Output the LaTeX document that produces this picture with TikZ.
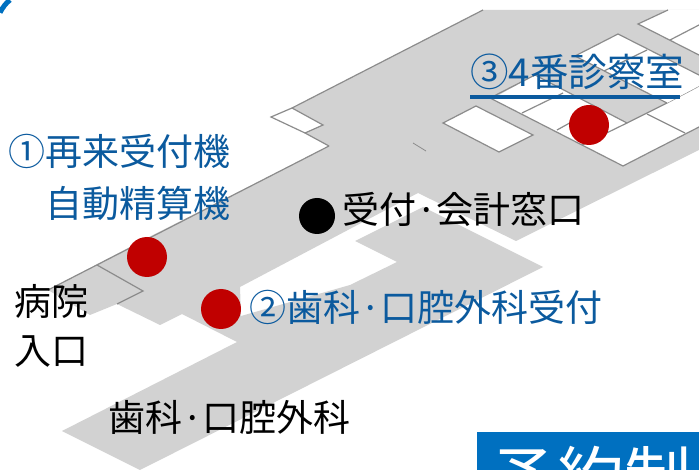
\documentclass[tikz,border=0pt]{standalone}
\usepackage{fontspec}
\usepackage{xcolor}
\setmainfont{Noto Sans CJK JP}
\usetikzlibrary{%
  positioning,%
  calc}
\definecolor{floorgray}{HTML}{D2D2D2}
\definecolor{wallgray}{HTML}{8C8C8C}
\definecolor{labelblue}{HTML}{0B5A9E}
\definecolor{boxblue}{HTML}{0070C0}
\definecolor{spotred}{HTML}{C00000}
\tikzset{
  wall/.style={draw=wallgray,line width=1.2pt,line join=miter},
  room/.style={wall,fill=white},
  spot/.style={circle,fill=spotred,minimum size=40pt,inner sep=0pt},
  blacklabel/.style={anchor=base west,inner sep=0pt,text=black,font=\fontsize{37}{37}\selectfont},
  bluelabel/.style={blacklabel,text=labelblue}
}
\begin{document}
\begin{tikzpicture}
\begin{scope}[x=1pt,y=-1pt]
\useasboundingbox (0,0) rectangle (699,470);
\clip (0,0) rectangle (699,470);
% floor
\fill[floorgray] (483,10) -- (699,10) -- (699,150) -- (516,241) -- (418,193) -- (240,287)
  -- (241,316) -- (350,285) -- (397,262) -- (355,241) -- (423,207) -- (543,267) -- (140,470) -- (62,431)
  -- (237,342) -- (182,314) -- (160,325) -- (117,304) -- (90,315) -- (48,290) -- (147,238)
  -- (329,146) -- (305,133) -- (323,125) -- (292,108) -- cycle;
\draw[wall] (483,10) -- (292,108);
\draw[wall] (329,146) -- (305,133);
\draw[wall] (329,146) -- (48,290);
\draw[wall] (97,265) -- (143,291) -- (117,304);
\draw[wall,line width=0.8pt] (413,143) -- (426,151);
% rooms
\draw[room] (292,108) -- (271,117) -- (305,133) -- (323,125) -- cycle;
\draw[room] (476,106) -- (533,135) -- (499,152) -- (443,123) -- cycle;
\fill[white] (492,99) -- (623,166) -- (699,127) -- (699,86) -- (667,103) -- (627,123) -- (535,75) -- cycle;
\draw[wall] (699,86) -- (667,103) -- (627,123) -- (535,75) -- (490,98) -- (623,166) -- (699,127);
\draw[wall] (522,113) -- (563,93);
\draw[wall] (557,130) -- (595,109);
\draw[wall] (582,145) -- (627,123);
\draw[wall] (647,114) -- (685,133);
\fill[white] (575,56) -- (618,34) -- (699,75) -- (699,86) -- (667,103) -- cycle;
\draw[wall] (667,103) -- (575,56) -- (618,34) -- (699,75);
\draw[wall] (647,50) -- (604,71);
\fill[white] (638,24) -- (668,10) -- (699,10) -- (699,55) -- cycle;
\draw[wall] (668,10) -- (638,24) -- (699,55);
\draw[wall] (670,40) -- (699,25);
% corner and box
\draw[boxblue,line width=5pt] (10,0) .. controls (6,3) and (3,7) .. (0,12.5);
\node (box) at (477,432) [anchor=north west,fill=boxblue,minimum width=222pt,minimum height=38pt,inner sep=0pt] {};
\node (yoyaku) at (490,502) [anchor=base west,inner sep=0pt,text=white,font=\fontsize{67}{67}\selectfont] {予約制};
% spots
\node (S1) at (147,257) [spot] {};
\node (S2) at (221,309) [spot] {};
\node (S3) at (589,125) [spot] {};
\node (R) at (317,216) [circle,fill=black,minimum size=36pt,inner sep=0pt] {};
% labels
\node (L1) at (8,166) [bluelabel] {①再来受付機};
\node (L1b) at (45,218) [bluelabel] {自動精算機};
\node (L2) at (249,322) [bluelabel] {②歯科·口腔外科受付};
\node (L3) at (470,87) [bluelabel,font=\fontsize{38.5}{38.5}\selectfont] {③4番診察室};
\draw[labelblue,line width=4pt] (470,97) -- (680,97);
\node (LR) at (342,224) [blacklabel] {受付·会計窓口};
\node (LE) at (14,316) [blacklabel] {病院};
\node (LEb) at (14,365) [blacklabel] {入口};
\node (LD) at (108,431) [blacklabel] {歯科·口腔外科};
\end{scope}
\end{tikzpicture}
\end{document}
